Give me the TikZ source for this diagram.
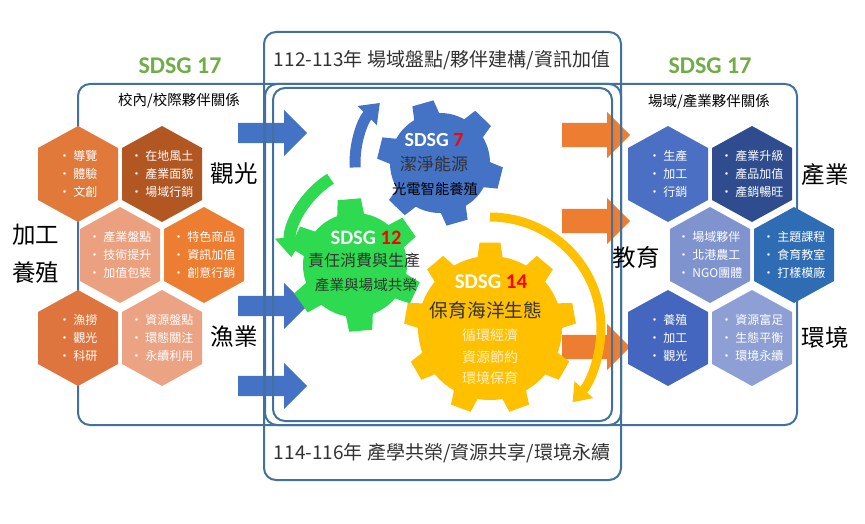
\documentclass[tikz,border=0pt]{standalone}
\usepackage{fontspec}
\setmainfont{Carlito}
\newfontfamily\cjk{Noto Sans CJK TC}
\usetikzlibrary{arrows.meta, shapes.arrows}
\definecolor{framecolor}{RGB}{65,113,156}
\definecolor{sdsggreen}{RGB}{112,173,71}
\definecolor{sdsgred}{RGB}{255,0,0}
\definecolor{darktext}{RGB}{50,50,50}
\definecolor{paletext}{RGB}{255,240,200}
\definecolor{arrowblue}{RGB}{68,114,196}
\definecolor{arroworange}{RGB}{237,125,49}
\definecolor{gearblue}{RGB}{68,114,196}
\definecolor{geargreen}{RGB}{45,218,80}
\definecolor{gearyellow}{RGB}{255,192,0}
\definecolor{hexA}{RGB}{224,121,58}
\definecolor{hexB}{RGB}{178,86,34}
\definecolor{hexC}{RGB}{235,160,127}
\definecolor{hexD}{RGB}{237,125,49}
\definecolor{hexE}{RGB}{223,117,62}
\definecolor{hexF}{RGB}{235,163,132}
\definecolor{hexG}{RGB}{74,111,195}
\definecolor{hexH}{RGB}{46,76,142}
\definecolor{hexI}{RGB}{127,147,206}
\definecolor{hexJ}{RGB}{46,109,180}
\definecolor{hexK}{RGB}{69,102,190}
\definecolor{hexL}{RGB}{141,159,213}
\tikzset{
  frame/.style     = {draw=framecolor, line width=2pt, rounded corners=12pt},
  hextext/.style   = {text=white, font=\cjk\fontsize{12}{18}\selectfont, align=left, inner sep=0pt},
  biglabel/.style  = {font=\cjk\fontsize{23.5}{38}\selectfont, align=center, inner sep=0pt},
  smalltitle/.style= {font=\cjk\fontsize{14.5}{14.5}\selectfont, inner sep=0pt},
  period/.style    = {font=\cjk\fontsize{19}{19}\selectfont, text=darktext, inner sep=0pt},
  sdsg/.style      = {font=\bfseries\fontsize{24}{24}\selectfont, text=sdsggreen, inner sep=0pt},
  gearnum/.style   = {font=\bfseries\fontsize{20.5}{20.5}\selectfont, text=white, inner sep=0pt},
  blockarrow/.style= {single arrow, draw=none, anchor=west, inner xsep=0pt},
  turn/.style      = {line cap=butt},
}
% gear: x, y, teeth, inner r, outer r, rotation, half tip angle, half base angle, colour
\newcommand{\drawgear}[9]{%
  \fill[#9, shift={(#1,#2)}] ({#6-#8}:#4)
    \foreach \k [evaluate=\k as \ga using {#6+(\k-1)*360/#3}] in {1,...,#3} {
      -- ({\ga-#8}:#4) -- ({\ga-#7}:#5) -- ({\ga+#7}:#5) -- ({\ga+#8}:#4)
      arc[start angle={\ga+#8}, end angle={\ga+360/#3-#8}, radius=#4]
    } -- cycle;}

\begin{document}
\begin{tikzpicture}[x=1pt, y=-1pt]
  \useasboundingbox (0,0) rectangle (865,524);
  % block arrows in and out
  \foreach \i/\ay in {1/133, 2/306, 3/386} {
    \node[blockarrow, fill=arrowblue, inner ysep=10pt, single arrow head extend=13pt,
          minimum height=69pt] (b\i) at (238,\ay) {};
  }
  \foreach \i/\ay in {1/135, 2/221, 3/347} {
    \node[blockarrow, fill=arroworange, inner ysep=12pt, single arrow head extend=11pt,
          minimum height=68pt] (o\i) at (562,\ay) {};
  }
  % frames
  \draw[frame] (78,84) rectangle (621,425);
  \draw[frame] (265,84) rectangle (797,425);
  \draw[frame] (264,32) rectangle (621,480);
  \draw[frame] (273,88) rectangle (612,421);
  % titles
  \node[sdsg] (s17l) at (180,66) {SDSG 17};
  \node[sdsg] (s17r) at (710,66) {SDSG 17};
  \node[smalltitle] (schl) at (179,101) {校內/校際夥伴關係};
  \node[smalltitle] (fldr) at (709,102) {場域/產業夥伴關係};
  \node[period] (p1) at (442,60) {112-113年 場域盤點/夥伴建構/資訊加值};
  \node[period] (p2) at (442,453) {114-116年 產學共榮/資源共享/環境永續};
  % hexagons
  \foreach \nm/\hx/\hy/\col/\txt in {
      hA/78/174/hexA/{• 導覽\\• 體驗\\• 文創},
      hB/162/174/hexB/{• 在地風土\\• 產業面貌\\• 場域行銷},
      hC/120/255/hexC/{• 產業盤點\\• 技術提升\\• 加值包裝},
      hD/204/255/hexD/{• 特色商品\\• 資訊加值\\• 創意行銷},
      hE/78/338/hexE/{• 漁撈\\• 觀光\\• 科研},
      hF/162/338/hexF/{• 資源盤點\\• 環態關注\\• 永續利用},
      hG/668/174/hexG/{• 生產\\• 加工\\• 行銷},
      hH/752/174/hexH/{• 產業升級\\• 產品加值\\• 產銷暢旺},
      hI/710/255/hexI/{• 場域夥伴\\• 北港農工\\• NGO團體},
      hJ/794/255/hexJ/{• 主題課程\\• 食育教室\\• 打樣模廠},
      hK/668/338/hexK/{• 養殖\\• 加工\\• 觀光},
      hL/752/338/hexL/{• 資源富足\\• 生態平衡\\• 環境永續}} {
    \fill[\col] (\hx,\hy) ++(0,-48) -- ++(40,22) -- ++(0,52) -- ++(-40,22)
      -- ++(-40,-22) -- ++(0,-52) -- cycle;
    \node[hextext] (\nm) at (\hx,\hy) {\txt};
  }
  % side labels
  \node[biglabel] (tour) at (234,174) {觀光};
  \node[biglabel] (proc) at (36,254) {加工\\養殖};
  \node[biglabel] (fish) at (234,337) {漁業};
  \node[biglabel] (indu) at (825,175) {產業};
  \node[biglabel] (educ) at (636,257) {教育};
  \node[biglabel] (envi) at (825,338) {環境};
  % gears
  \drawgear{440}{163}{6}{50}{63}{14}{10}{15}{gearblue}
  \drawgear{355}{265}{6}{52}{67}{25}{10}{15}{geargreen}
  \drawgear{490}{328}{9}{72}{86}{30}{7}{10}{gearyellow}
  % turning arrows
  \draw[turn, arrowblue, line width=11pt, -{Triangle[width=26pt, length=18pt]}]
    (440,163) ++(-183:85) arc[start angle=-183, end angle=-135, radius=85];
  \draw[turn, geargreen, line width=12pt, -{Triangle[width=28pt, length=20pt]}]
    (375,250) ++(-122:84) arc[start angle=-122, end angle=-185, radius=84];
  \draw[turn, gearyellow, line width=9pt, -{Triangle[width=24pt, length=17pt]}]
    (490,328) ++(-90:111) arc[start angle=-90, end angle=42, radius=111];
  % gear texts
  \node[gearnum, font=\bfseries\fontsize{20}{20}\selectfont] (g7) at (434,140) {SDSG \textcolor{sdsgred}{7}};
  \node[font=\cjk\fontsize{17}{17}\selectfont, text=darktext, inner sep=0pt] (g7a) at (434,164) {潔淨能源};
  \node[font=\cjk\fontsize{14.3}{14.3}\selectfont, inner sep=0pt] (g7b) at (435,189) {光電智能養殖};
  \node[gearnum] (g12) at (366,238) {SDSG \textcolor{sdsgred}{12}};
  \node[font=\cjk\fontsize{16}{16}\selectfont, text=darktext, inner sep=0pt] (g12a) at (364,260) {責任消費與生產};
  \node[font=\cjk\fontsize{14.6}{14.6}\selectfont, text=darktext, inner sep=0pt] (g12b) at (366,285) {產業與場域共榮};
  \node[gearnum, font=\bfseries\fontsize{21}{21}\selectfont] (g14) at (491,282) {SDSG \textcolor{sdsgred}{14}};
  \node[font=\cjk\fontsize{18.7}{18.7}\selectfont, text=darktext, inner sep=0pt] (g14a) at (486,310) {保育海洋生態};
  \node[font=\cjk\fontsize{14}{21.5}\selectfont, text=paletext, align=center, inner sep=0pt] (g14b) at (490,357) {循環經濟\\資源節約\\環境保育};
\end{tikzpicture}
\end{document}
